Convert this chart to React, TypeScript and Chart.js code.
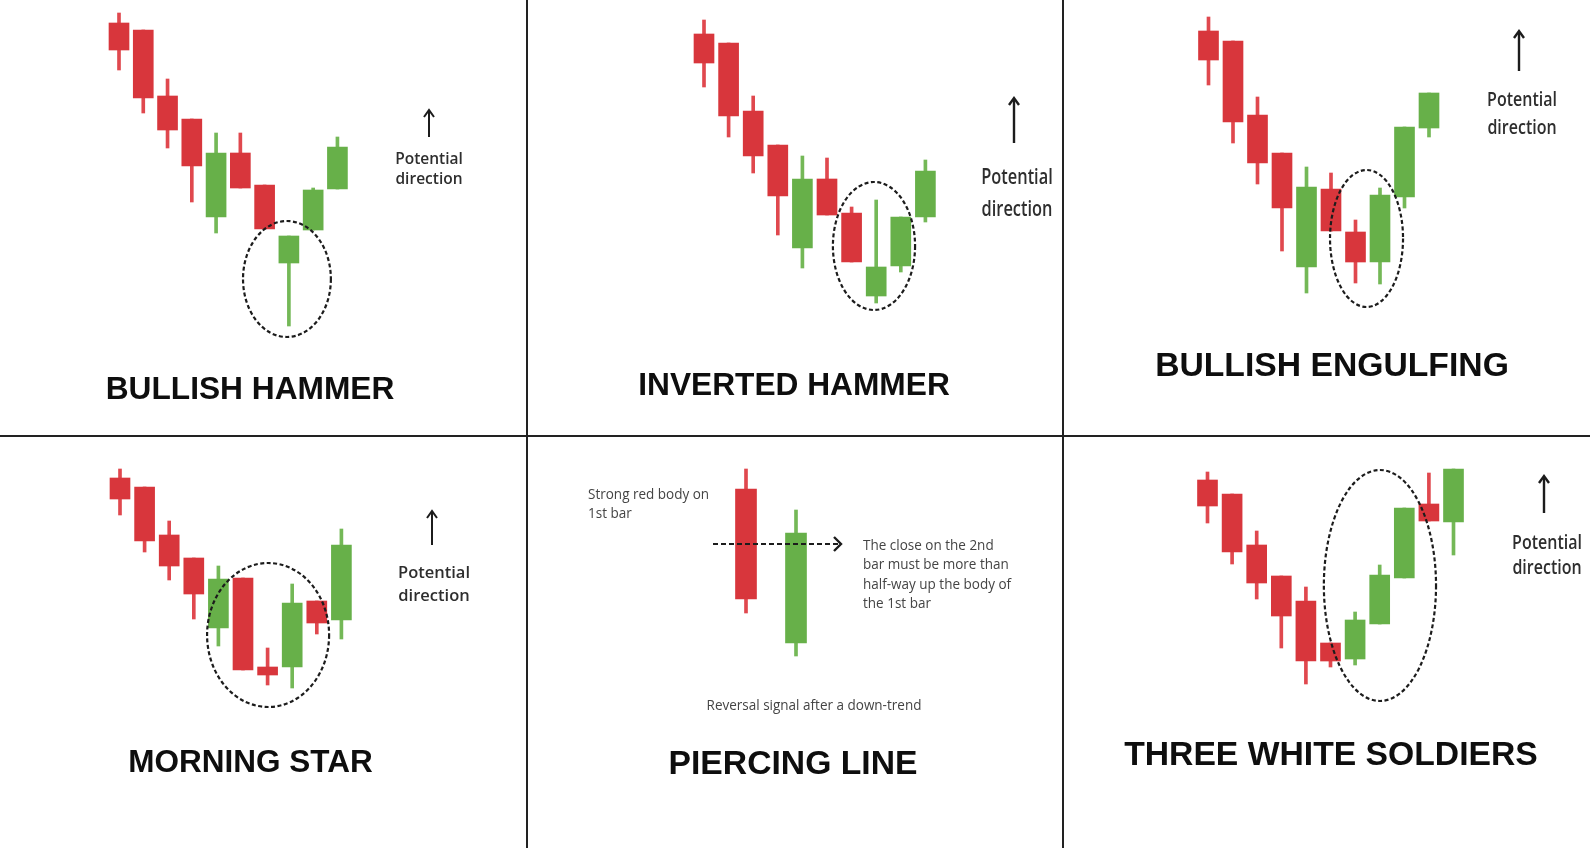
import React, { useEffect, useRef } from "react";
import { Chart, registerables } from "chart.js";

Chart.register(...registerables);

// ---------- DATA (prices; each candle is [open, high, low, close]) ----------
const patternTitles = [
  "BULLISH HAMMER",
  "INVERTED HAMMER",
  "BULLISH ENGULFING",
  "MORNING STAR",
  "PIERCING LINE",
  "THREE WHITE SOLDIERS",
];

const bullishHammer = [
  [103.25, 105.75, 91.5, 96.5],
  [101.5, 101.5, 80.75, 84.5],
  [85, 89.25, 72, 76.5],
  [79.25, 79.25, 58.5, 67.5],
  [54.75, 75.75, 50.75, 70.75],
  [70.75, 75.75, 62, 62],
  [62.75, 62.75, 51.75, 51.75],
  [43.25, 50, 27.5, 50],
  [51.5, 62, 51.5, 61.5],
  [61.75, 74.75, 61.75, 72.25],
];

const invertedHammer = [
  [100.5, 104, 87.25, 93.25],
  [98.25, 98.25, 74.75, 80],
  [81.25, 85, 65.75, 70],
  [72.75, 72.75, 50.25, 60],
  [47, 70, 42, 64.25],
  [64.25, 69.5, 55.25, 55.25],
  [55.75, 57.25, 43.5, 43.5],
  [35, 59, 33.25, 42.25],
  [42.5, 54.75, 41, 54.75],
  [54.75, 69, 53.5, 66.25],
];

const bullishEngulfing = [
  [101.25, 104.75, 87.75, 94],
  [98.75, 98.75, 73.25, 78.5],
  [80.25, 84.75, 63, 68.25],
  [70.75, 70.75, 46.25, 57],
  [42.25, 67.25, 35.75, 62.25],
  [61.75, 65.75, 51.25, 51.25],
  [51, 54, 38.25, 43.5],
  [43.5, 62, 38, 60.25],
  [59.75, 77.25, 57, 77.25],
  [77, 85.75, 74.75, 85.75],
];

const morningStar = [
  [92.5, 94.75, 83.25, 87.25],
  [90.25, 90.25, 74, 76.75],
  [78.25, 81.75, 67, 70.5],
  [72.5, 72.5, 57.25, 63.5],
  [55, 70.5, 50.5, 67.25],
  [67.5, 67.5, 44.5, 44.5],
  [45.25, 50, 40.75, 43.25],
  [45.25, 66, 40, 61.25],
  [61.75, 61.75, 53.5, 56.25],
  [57, 79.75, 52.25, 75.75],
];

const piercingLine = [
  [89.75, 94.75, 58.75, 62.25],
  [51.25, 84.5, 48, 78.75],
];

const threeWhiteSoldiers = [
  [92, 94, 81.25, 85.5],
  [88.5, 88.5, 71, 74],
  [75.75, 79.25, 62.25, 66.25],
  [68, 68, 50, 58],
  [61.75, 65.25, 41, 46.75],
  [51.25, 51.25, 45.25, 46.75],
  [47.25, 59, 45.75, 57],
  [56, 70.75, 56, 68.25],
  [67.5, 85, 67.5, 85],
  [86, 93.75, 81.75, 81.75],
  [81.5, 94.75, 73.25, 94.75],
];

const directionLabel = ["Potential", "direction"];
const piercingNoteLeft = ["Strong red body on", "1st bar"];
const piercingNoteRight = [
  "The close on the 2nd",
  "bar must be more than",
  "half-way up the body of",
  "the 1st bar",
];
const piercingNoteBottom = ["Reversal signal after a down-trend"];

// ---------- STYLE / LAYOUT ----------
const RED = "#d8363c";
const GREEN = "#67b049";
const RED_WICK = "#e0484e";
const GREEN_WICK = "#74b857";
const INK = "#1c1c1c";
const PX_PER_UNIT = 4;

type Note = {
  lines: string[];
  x: number;
  y: number;
  align: "center" | "left";
  size: number;
  lh: number;
  weight: number;
  sx: number;
  color: string;
};

type PanelCfg = {
  left: number;
  top: number;
  w: number;
  h: number;
  candles: number[][];
  x0: number;
  dx: number;
  bodyWidth: number;
  ellipse?: { cx: number; rx: number; top: number; bottom: number };
  arrow?: { x: number; top: number; bottom: number; lw: number };
  pierce?: { from: number; to: number };
  title: string;
  titleX: number;
  titleBase: number;
  titleSize: number;
  notes: Note[];
};

const dirNote = (x: number, y: number, size: number, lh: number, weight: number, sx: number): Note => ({
  lines: directionLabel,
  x,
  y,
  align: "center",
  size,
  lh,
  weight,
  sx,
  color: "#2e2e2e",
});

const panels: PanelCfg[] = [
  {
    left: 0, top: 0, w: 527, h: 436,
    candles: bullishHammer, x0: 119, dx: 24.27, bodyWidth: 20,
    ellipse: { cx: 6.92, rx: 1.81, top: 53.75, bottom: 24.75 },
    arrow: { x: 429, top: 110, bottom: 137, lw: 2 },
    title: patternTitles[0], titleX: 250, titleBase: 400, titleSize: 31.7,
    notes: [dirNote(429, 158, 15.5, 20, 600, 1)],
  },
  {
    left: 527, top: 0, w: 536, h: 436,
    candles: invertedHammer, x0: 177, dx: 24.6, bodyWidth: 20,
    ellipse: { cx: 6.91, rx: 1.67, top: 63.5, bottom: 31.5 },
    arrow: { x: 487, top: 98, bottom: 143, lw: 2.4 },
    title: patternTitles[1], titleX: 267, titleBase: 396, titleSize: 31.7,
    notes: [dirNote(490, 176, 21, 32, 600, 0.78)],
  },
  {
    left: 1063, top: 0, w: 527, h: 436,
    candles: bullishEngulfing, x0: 145.5, dx: 24.5, bodyWidth: 20,
    ellipse: { cx: 6.45, rx: 1.49, top: 66.5, bottom: 32.25 },
    arrow: { x: 456, top: 31, bottom: 71, lw: 2.4 },
    title: patternTitles[2], titleX: 269, titleBase: 377, titleSize: 33.7,
    notes: [dirNote(459, 99, 20, 28, 600, 0.8)],
  },
  {
    left: 0, top: 437, w: 527, h: 411,
    candles: morningStar, x0: 120, dx: 24.6, bodyWidth: 20,
    ellipse: { cx: 6.02, rx: 2.48, top: 71.25, bottom: 35.25 },
    arrow: { x: 432, top: 74, bottom: 108, lw: 2 },
    title: patternTitles[3], titleX: 250.5, titleBase: 336, titleSize: 31.5,
    notes: [dirNote(434, 134, 16.5, 23, 600, 1)],
  },
  {
    left: 527, top: 437, w: 536, h: 411,
    candles: piercingLine, x0: 219, dx: 50, bodyWidth: 21,
    pierce: { from: -0.66, to: 1.9 },
    title: patternTitles[4], titleX: 266, titleBase: 338, titleSize: 33.7,
    notes: [
      { lines: piercingNoteLeft, x: 61, y: 56.5, align: "left", size: 15, lh: 19, weight: 500, sx: 0.9, color: "#444" },
      { lines: piercingNoteRight, x: 336, y: 107.5, align: "left", size: 15, lh: 19.5, weight: 500, sx: 0.9, color: "#444" },
      { lines: piercingNoteBottom, x: 286.5, y: 267, align: "center", size: 15, lh: 19, weight: 500, sx: 0.9, color: "#444" },
    ],
  },
  {
    left: 1063, top: 437, w: 527, h: 411,
    candles: threeWhiteSoldiers, x0: 144.5, dx: 24.6, bodyWidth: 20,
    ellipse: { cx: 7.01, rx: 2.28, top: 94.5, bottom: 36.75 },
    arrow: { x: 481, top: 39, bottom: 76, lw: 2.4 },
    title: patternTitles[5], titleX: 268, titleBase: 329, titleSize: 33.7,
    notes: [dirNote(484, 104, 20, 25, 600, 0.8)],
  },
];

// ---------- plugin drawing the dashed highlight ellipse, arrows, piercing level ----------
const marksPlugin = {
  id: "marks",
  afterDatasetsDraw(chart: any, _args: any, opts: any) {
    const cfg: PanelCfg = opts.cfg;
    if (!cfg) return;
    const ctx = chart.ctx as CanvasRenderingContext2D;
    const xs = chart.scales.x;
    const ys = chart.scales.y;
    ctx.save();
    ctx.strokeStyle = INK;
    if (cfg.ellipse) {
      const e = cfg.ellipse;
      const cx = xs.getPixelForValue(e.cx);
      const rx = Math.abs(xs.getPixelForValue(e.cx + e.rx) - cx);
      const yt = ys.getPixelForValue(e.top);
      const yb = ys.getPixelForValue(e.bottom);
      ctx.setLineDash([4, 2.5]);
      ctx.lineWidth = 2.2;
      ctx.beginPath();
      ctx.ellipse(cx, (yt + yb) / 2, rx, Math.abs(yb - yt) / 2, 0, 0, Math.PI * 2);
      ctx.stroke();
      ctx.setLineDash([]);
    }
    if (cfg.pierce) {
      const first = cfg.candles[0];
      const level = (first[0] + first[3]) / 2;
      const y = ys.getPixelForValue(level);
      const x1 = xs.getPixelForValue(cfg.pierce.from);
      const x2 = xs.getPixelForValue(cfg.pierce.to);
      ctx.setLineDash([5, 3]);
      ctx.lineWidth = 2;
      ctx.beginPath();
      ctx.moveTo(x1, y);
      ctx.lineTo(x2 - 3, y);
      ctx.stroke();
      ctx.setLineDash([]);
      ctx.lineWidth = 2.4;
      ctx.beginPath();
      ctx.moveTo(x2 - 7, y - 7);
      ctx.lineTo(x2, y);
      ctx.lineTo(x2 - 7, y + 7);
      ctx.stroke();
    }
    if (cfg.arrow) {
      const a = cfg.arrow;
      ctx.lineWidth = a.lw;
      ctx.beginPath();
      ctx.moveTo(a.x, a.bottom);
      ctx.lineTo(a.x, a.top + 1);
      ctx.stroke();
      ctx.lineWidth = a.lw;
      ctx.lineJoin = "miter";
      ctx.beginPath();
      ctx.moveTo(a.x - 5, a.top + 7);
      ctx.lineTo(a.x, a.top);
      ctx.lineTo(a.x + 5, a.top + 7);
      ctx.stroke();
    }
    ctx.restore();
  },
};

function CandlePanel({ cfg }: { cfg: PanelCfg }) {
  const ref = useRef<HTMLCanvasElement>(null);
  useEffect(() => {
    const canvas = ref.current;
    if (!canvas) return;
    const up = cfg.candles.map((k) => k[3] >= k[0]);
    const chart = new Chart(canvas, {
      type: "bar",
      data: {
        datasets: [
          {
            label: "body",
            data: cfg.candles.map((k, i) => ({ x: i, y: [Math.min(k[0], k[3]), Math.max(k[0], k[3])] })) as any,
            backgroundColor: up.map((u) => (u ? GREEN : RED)),
            barThickness: cfg.bodyWidth,
            grouped: false,
            order: 0,
            borderWidth: 0,
          } as any,
          {
            label: "wick",
            data: cfg.candles.map((k, i) => ({ x: i, y: [k[2], k[1]] })) as any,
            backgroundColor: up.map((u) => (u ? GREEN_WICK : RED_WICK)),
            barThickness: 3,
            grouped: false,
            order: 1,
            borderWidth: 0,
          } as any,
        ],
      },
      options: {
        responsive: false,
        animation: false,
        events: [],
        layout: { padding: 0 },
        scales: {
          x: {
            type: "linear",
            display: false,
            offset: false,
            min: -cfg.x0 / cfg.dx,
            max: (cfg.w - cfg.x0) / cfg.dx,
          },
          y: {
            type: "linear",
            display: false,
            min: 0,
            max: cfg.h / PX_PER_UNIT,
          },
        },
        plugins: {
          legend: { display: false },
          tooltip: { enabled: false },
          marks: { cfg },
        } as any,
      },
      plugins: [marksPlugin as any],
    });
    return () => chart.destroy();
  }, [cfg]);

  return (
    <div
      style={{
        position: "absolute",
        left: cfg.left,
        top: cfg.top,
        width: cfg.w,
        height: cfg.h,
        overflow: "hidden",
      }}
    >
      <canvas ref={ref} width={cfg.w} height={cfg.h} style={{ display: "block" }} />
      {cfg.notes.map((n, i) => (
        <div
          key={i}
          style={{
            position: "absolute",
            left: n.align === "center" ? n.x - 150 : n.x,
            top: n.y - n.lh / 2,
            width: n.align === "center" ? 300 : 400,
            textAlign: n.align,
            fontFamily: '"Open Sans", sans-serif',
            fontSize: n.size,
            lineHeight: n.lh + "px",
            fontWeight: n.weight,
            color: n.color,
            whiteSpace: "pre",
            transform: `scaleX(${n.sx})`,
            transformOrigin: n.align === "center" ? "50% 0" : "0 0",
          }}
        >
          {n.lines.join("\n")}
        </div>
      ))}
      <div
        style={{
          position: "absolute",
          left: cfg.titleX - 300,
          width: 600,
          top: cfg.titleBase - 0.8465 * cfg.titleSize,
          textAlign: "center",
          fontFamily: '"Liberation Sans", Arial, sans-serif',
          fontWeight: 700,
          fontSize: cfg.titleSize,
          lineHeight: 1,
          color: "#0e0e0e",
          whiteSpace: "nowrap",
        }}
      >
        {cfg.title}
      </div>
    </div>
  );
}

export default function App() {
  return (
    <div
      style={{
        position: "absolute",
        left: 0,
        top: 0,
        width: 1590,
        height: 848,
        background: "#ffffff",
        overflow: "hidden",
      }}
    >
      {panels.map((p, i) => (
        <CandlePanel key={i} cfg={p} />
      ))}
      <div style={{ position: "absolute", left: 526, top: 0, width: 2, height: 848, background: "#222" }} />
      <div style={{ position: "absolute", left: 1062, top: 0, width: 2, height: 848, background: "#222" }} />
      <div style={{ position: "absolute", left: 0, top: 435, width: 1590, height: 2, background: "#222" }} />
    </div>
  );
}
